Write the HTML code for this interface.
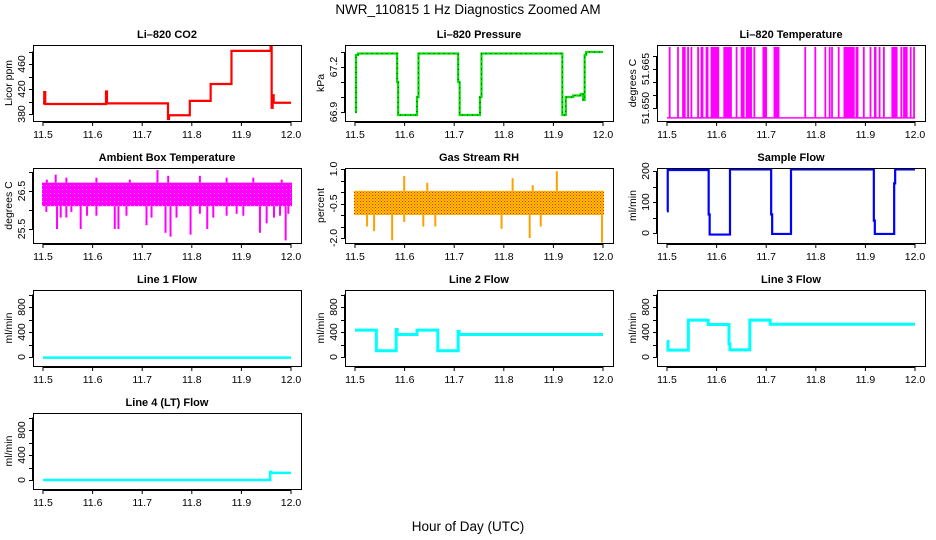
<!DOCTYPE html>
<html><head><meta charset="utf-8"><style>
html,body{margin:0;padding:0;background:#fff;}
svg{display:block;font-family:"Liberation Sans",sans-serif;}
</style></head><body>
<svg id="chart" width="936" height="540" viewBox="0 0 936 540" xmlns="http://www.w3.org/2000/svg">
<defs>
<pattern id="rhpat" width="3" height="3" patternUnits="userSpaceOnUse"><rect width="3" height="3" fill="#ffc800"/><rect width="1" height="1" fill="#ff2000"/><rect x="1.5" y="1.5" width="1" height="1" fill="#ff2000"/></pattern>
<pattern id="ambpat" width="4" height="4" patternUnits="userSpaceOnUse"><rect width="4" height="4" fill="#ff00ff"/><rect x="2" y="1" width="1" height="1" fill="#ff80ff"/></pattern>
</defs>
<text x="468" y="14" text-anchor="middle" font-size="13.5">NWR_110815  1 Hz Diagnostics Zoomed AM</text>
<text x="468" y="531" text-anchor="middle" font-size="13.5">Hour of Day (UTC)</text>
</svg>
<script>
// ---- data ----
const xTicks = [11.5, 11.6, 11.7, 11.8, 11.9, 12.0];
const xTickLabels = ["11.5", "11.6", "11.7", "11.8", "11.9", "12.0"];
// CO2 step series
const co2Times = [11.5, 11.5025, 11.5045, 11.627, 11.629, 11.752, 11.754, 11.796, 11.838, 11.88, 11.959, 11.961, 11.963, 11.965];
const co2Values = [397, 415, 396, 416, 397, 372, 378, 401, 428, 481, 490, 390, 410, 398];
// Pressure step series
const presTimes = [11.5, 11.502, 11.506, 11.585, 11.587, 11.625, 11.628, 11.708, 11.711, 11.752, 11.755, 11.918, 11.925, 11.94, 11.955, 11.96, 11.963, 11.966];
const presValues = [66.9, 67.28, 67.29, 67.1, 66.88, 67.0, 67.29, 67.1, 66.88, 67.0, 67.29, 66.88, 67.0, 67.01, 67.02, 66.98, 67.28, 67.3];
// Li-820 temperature: baseline value and spike onset times
const tempBase = 51.6462;
const tempHigh = 51.6735;
const tempSpikeStart = [11.5047,11.5216,11.5317,11.5419,11.5486,11.5621,11.5689,11.579,11.5891,11.6148,11.6397,11.6499,11.66,11.6755,11.6937,11.716,11.7781,11.7984,11.8186,11.8274,11.8321,11.8456,11.8571,11.8814,11.8962,11.9097,11.9185,11.928,11.9367,11.9536,11.9718,11.9772,11.9907,11.9975];
const tempSpikeEnd   = [11.506,11.5228,11.5365,11.5431,11.5498,11.5633,11.5722,11.5824,11.604,11.6296,11.6409,11.6553,11.6701,11.6767,11.7005,11.7255,11.7793,11.7996,11.8198,11.8286,11.8333,11.8468,11.8773,11.8848,11.8974,11.9109,11.9212,11.9292,11.9379,11.9637,11.973,11.984,11.9919,11.9987];
// Ambient box temperature: core band and spikes
const ambCore = [26.1, 26.72];
const ambSpikeTimes = [11.5067,11.5283,11.5357,11.5471,11.5572,11.5760,11.5888,11.6077,11.6447,11.6521,11.6683,11.7087,11.7188,11.7470,11.7571,11.7692,11.7975,11.8163,11.8312,11.8433,11.8702,11.8904,11.9039,11.9374,11.9509,11.9657,11.9778,11.9892,11.9946,11.5256,11.5471,11.5077,11.6077,11.6750,11.7308,11.7524,11.8163,11.8702,11.9240,11.9812];
const ambSpikeValues = [25.95,25.5,25.8,25.8,25.95,25.5,25.85,25.85,25.5,25.5,25.85,25.6,25.8,25.4,25.3,25.8,25.35,25.9,25.5,25.8,25.85,25.9,25.85,25.4,25.65,25.8,25.85,25.2,25.9,26.93,26.85,26.8,26.85,26.8,27.05,26.9,26.9,26.85,26.85,26.8];
// Gas stream RH: core band and spikes
const rhCore = [-1.0, 0.05];
const rhSpikeTimes = [11.5243,11.5385,11.5749,11.5992,11.6377,11.6619,11.7955,11.8522,11.8745,11.9980,11.5992,11.6457,11.8178,11.8583,11.9069];
const rhSpikeValues = [-1.5,-1.7,-2.1,-1.3,-1.5,-1.5,-1.6,-2.0,-1.5,-2.2,0.7,0.4,0.6,0.3,0.9];
// Sample flow
const sfTimes = [11.5, 11.5015, 11.503, 11.584, 11.586, 11.627, 11.71, 11.712, 11.75, 11.917, 11.919, 11.958, 11.96];
const sfValues = [70, 205, 203, 60, -5, 205, 60, -3, 205, 40, -3, 160, 205];
// Line flows
const l1Times = [11.5];
const l1Values = [-10];
const l2Times = [11.5, 11.543, 11.583, 11.585, 11.625, 11.667, 11.708, 11.71];
const l2Values = [430, 100, 440, 360, 430, 100, 410, 360];
const l3Times = [11.5, 11.502, 11.543, 11.583, 11.625, 11.627, 11.667, 11.708];
const l3Values = [250, 110, 590, 520, 210, 115, 590, 525];
const l4Times = [11.5, 11.958, 11.96];
const l4Values = [0, 130, 115];

// ---- layout ----
const svg = document.getElementById('chart');
const NS = 'http://www.w3.org/2000/svg';
const colX = [33, 345, 657];
const rowY = [[45,121],[168,243],[290,366],[413,489]];
function mk(tag, attrs, parent){ const e=document.createElementNS(NS,tag); for(const k in attrs) e.setAttribute(k, attrs[k]); (parent||svg).appendChild(e); return e; }

function panel(key, title, col, row, ylab, v1, o1, v2, o2, yticks, ylabels){
  const x0 = colX[col], x1 = x0+268, y0 = rowY[row][0], y1 = rowY[row][1];
  const g = mk('g', {});
  
  
  const xs = t => x0 + 10 + (t - 11.5) / 0.5 * 248;
  const p1 = y0 + o1, p2 = y0 + o2;
  const ys = v => p1 + (v - v1) * (p2 - p1) / (v2 - v1);
  const cp = mk('clipPath', {id: 'clip-' + key}, g);
  mk('rect', {x: x0, y: y0, width: 268, height: y1 - y0}, cp);
  const plot = mk('g', {'clip-path': 'url(#clip-' + key + ')'}, g);
  
  
  const frame = mk('rect', {x: x0 + .5, y: y0 + .5, width: 268, height: y1 - y0, fill: 'none', stroke: '#000', 'stroke-width': 1}, g);
  
  
  const tt = mk('text', {x: x0 + 134, y: y0 - 7, 'text-anchor': 'middle', 'font-size': 11, 'font-weight': 'bold'}, g);
  tt.textContent = title;
  
  
  xTicks.forEach((t, i) => {
    const tk = mk('line', {x1: xs(t), x2: xs(t), y1: y1 + 1, y2: y1 + 5, stroke: '#000'}, g);
    
    
    const lb = mk('text', {x: xs(t), y: y1 + 17, 'text-anchor': 'middle', 'font-size': 10.5}, g);
    lb.textContent = xTickLabels[i];
    
    
  });
  mk('line', {x1: xs(11.5), x2: xs(12.0), y1: y1 + 1.5, y2: y1 + 1.5, stroke: '#000'}, g);
  yticks.forEach(v => {
    const tk = mk('line', {x1: x0 - 4, x2: x0, y1: Math.round(ys(v)) + .5, y2: Math.round(ys(v)) + .5, stroke: '#000'}, g);
    
    
  });
  mk('line', {x1: x0 - .5, x2: x0 - .5, y1: ys(yticks[0]), y2: ys(yticks[yticks.length - 1]), stroke: '#000'}, g);
  ylabels.forEach(v => {
    const yy = ys(v);
    const lb = mk('text', {x: 0, y: 0, transform: 'translate(' + (x0 - 8) + ',' + yy + ') rotate(-90)', 'text-anchor': 'middle', 'font-size': 10.5}, g);
    lb.textContent = String(v);
    
    
  });
  const yl = mk('text', {x: 0, y: 0, transform: 'translate(' + (x0 - 21) + ',' + ((y0 + y1) / 2) + ') rotate(-90)', 'text-anchor': 'middle', 'font-size': 10.5}, g);
  yl.textContent = ylab;
  
  
  return {xs, ys, plot};
}

function stepPath(P, times, values, color, w, name){
  let d = 'M' + P.xs(times[0]) + ' ' + P.ys(values[0]);
  for (let i = 1; i < times.length; i++) d += ' H' + P.xs(times[i]) + ' V' + P.ys(values[i]);
  d += ' H' + P.xs(12.0);
  const p = mk('path', {d: d, fill: 'none', stroke: color, 'stroke-width': w}, P.plot);
  
  
  return p;
}

let P = panel('co2', 'Li\u2013820 CO2', 0, 0, 'Licor ppm', 380, 69, 460, 19, [380,400,420,440,460,480], [380,420,460]);
stepPath(P, co2Times, co2Values, '#ff0000', 2.2, 'co2-line');
P = panel('pressure', 'Li\u2013820 Pressure', 1, 0, 'kPa', 66.9, 67, 67.2, 22, [66.9,67.0,67.1,67.2,67.3], ['66.9','67.2']);
stepPath(P, presTimes, presValues, '#00e000', 2.2, 'pressure-line');
stepPath(P, presTimes, presValues, '#000', 0.8, 'pressure-points').setAttribute('stroke-dasharray', '1 4');
P = panel('li820-temp', 'Li\u2013820 Temperature', 2, 0, 'degrees C', 51.650, 63, 51.665, 24, [51.650,51.655,51.660,51.665,51.670], ['51.650','51.665']);
stepPath(P, [11.5], [tempBase], '#ff00ff', 1.5, 'li820-temp-baseline');
for (let i = 0; i < tempSpikeStart.length; i++){
  const a = P.xs(tempSpikeStart[i]), b = P.xs(tempSpikeEnd[i]);
  const r = mk('rect', {x: a - .6, y: P.ys(tempHigh), width: Math.max(1.6, b - a + 1.2), height: P.ys(tempBase) - P.ys(tempHigh), fill: '#ff00ff'}, P.plot);
  
  
}
P = panel('ambient', 'Ambient Box Temperature', 0, 1, 'degrees C', 26.5, 23, 25.5, 61, [25.5,26.0,26.5,27.0], ['25.5','26.5']);
{
  const r = mk('rect', {x: P.xs(11.5) - 1, y: P.ys(ambCore[1]), width: P.xs(12.0) - P.xs(11.5) + 2, height: P.ys(ambCore[0]) - P.ys(ambCore[1]), fill: 'url(#ambpat)'}, P.plot);
  
  
  ambSpikeTimes.forEach((t, i) => {
    const v = ambSpikeValues[i];
    const from = v < ambCore[0] ? ambCore[0] : ambCore[1];
    const l = mk('line', {x1: P.xs(t), x2: P.xs(t), y1: P.ys(from), y2: P.ys(v), stroke: '#ff00ff', 'stroke-width': 2}, P.plot);
    
    
  });
}
P = panel('rh', 'Gas Stream RH', 1, 1, 'percent', 1.0, 1, -2.0, 70, [-2.0,-1.5,-1.0,-0.5,0,0.5,1.0], ['-2.0','-0.5','1.0']);
{
  const r = mk('rect', {x: P.xs(11.5) - 1, y: P.ys(rhCore[1]), width: P.xs(12.0) - P.xs(11.5) + 2, height: P.ys(rhCore[0]) - P.ys(rhCore[1]), fill: 'url(#rhpat)'}, P.plot);
  
  
  rhSpikeTimes.forEach((t, i) => {
    const v = rhSpikeValues[i];
    const from = v < rhCore[0] ? rhCore[0] : rhCore[1];
    const l = mk('line', {x1: P.xs(t), x2: P.xs(t), y1: P.ys(from), y2: P.ys(v), stroke: '#ffa000', 'stroke-width': 2}, P.plot);
    
    
  });
}
P = panel('sample-flow', 'Sample Flow', 2, 1, 'ml/min', 200, 3, 0, 65, [0,50,100,150,200], [0,100,200]);
stepPath(P, sfTimes, sfValues, '#0000ff', 2.2, 'sample-flow-line');
const flowTicks = [0,200,400,600,800,1000];
P = panel('line1-flow', 'Line 1 Flow', 0, 2, 'ml/min', 0, 67, 800, 17, flowTicks, [0,400,800]);
stepPath(P, l1Times, l1Values, '#00ffff', 2.5, 'line1-flow-line');
P = panel('line2-flow', 'Line 2 Flow', 1, 2, 'ml/min', 0, 67, 800, 17, flowTicks, [0,400,800]);
stepPath(P, l2Times, l2Values, '#00ffff', 3, 'line2-flow-line');
P = panel('line3-flow', 'Line 3 Flow', 2, 2, 'ml/min', 0, 67, 800, 17, flowTicks, [0,400,800]);
stepPath(P, l3Times, l3Values, '#00ffff', 3, 'line3-flow-line');
P = panel('line4-flow', 'Line 4 (LT) Flow', 0, 3, 'ml/min', 0, 67, 800, 17, flowTicks, [0,400,800]);
stepPath(P, l4Times, l4Values, '#00ffff', 2.5, 'line4-flow-line');
</script>
</body></html>
